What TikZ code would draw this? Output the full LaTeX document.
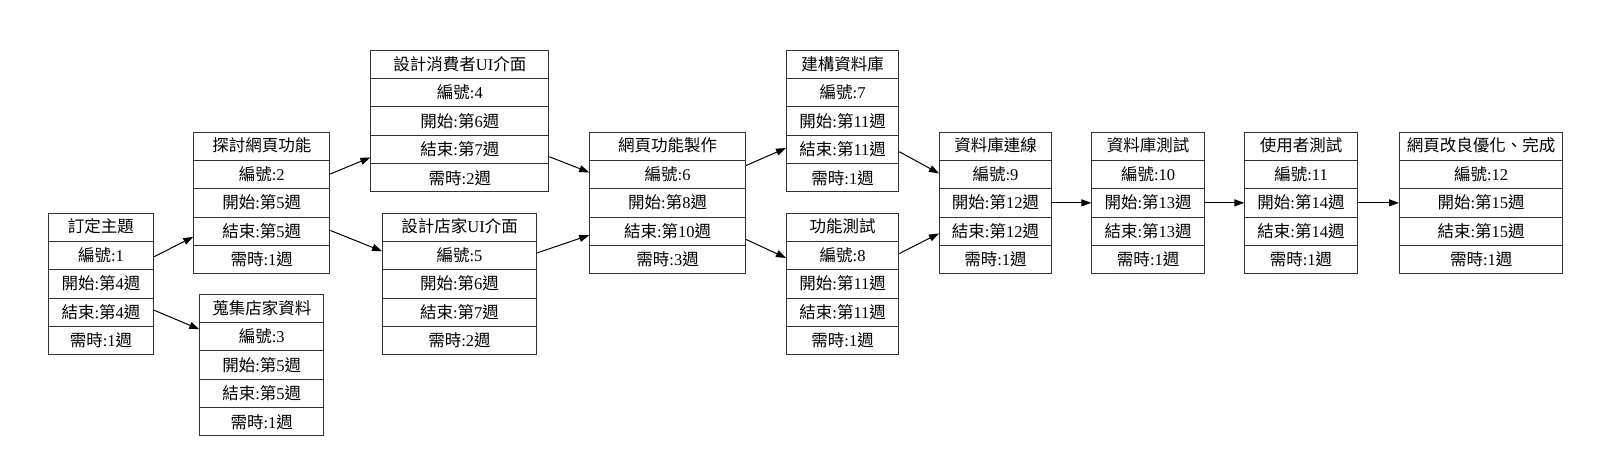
\documentclass[tikz,border=0pt]{standalone}
\usepackage{fontspec}
\setmainfont{Liberation Serif}
\newfontfamily\cjk{Noto Sans CJK TC}
\usetikzlibrary{calc,arrows.meta}
\newcommand\C[1]{{\cjk #1}}
\newcommand\rid[1]{\C{編號}:#1}
\newcommand\rst[1]{\C{開始}:\C{第}#1\C{週}}
\newcommand\ren[1]{\C{結束}:\C{第}#1\C{週}}
\newcommand\rdu[1]{\C{需時}:#1\C{週}}
\tikzset{
  recbox/.style={draw=black!80, line width=1pt, minimum height=141.3pt, inner sep=0pt, fill=white, anchor=north west},
  recline/.style={draw=black!80, line width=1pt},
  rowtxt/.style={inner sep=0pt, text height=14.5pt, text depth=2.5pt, font=\fontsize{16.5}{18}\selectfont},
  arr/.style={line width=1pt, -{Triangle[length=10pt,width=7pt]}},
}
\newcommand\record[9]{%
  \node[recbox, minimum width={(#3-#2)*1pt}] (#1) at (#2,#4) {};
  \foreach \f in {0.2,0.4,0.6,0.8} {\draw[recline] ($(#1.north west)!\f!(#1.south west)$) -- ($(#1.north east)!\f!(#1.south east)$);}
  \node[rowtxt] (#1-1) at ($(#1.north)!0.1!(#1.south)$) {#5};
  \node[rowtxt] (#1-2) at ($(#1.north)!0.3!(#1.south)$) {\rid{#6}};
  \node[rowtxt] (#1-3) at ($(#1.north)!0.5!(#1.south)$) {\rst{#7}};
  \node[rowtxt] (#1-4) at ($(#1.north)!0.7!(#1.south)$) {\ren{#8}};
  \node[rowtxt] (#1-5) at ($(#1.north)!0.9!(#1.south)$) {\rdu{#9}};
}
\newcommand\edge[4]{%
  \draw[arr] ($(#1.north east)!#2!(#1.south east)$) -- ($(#3.north west)!#4!(#3.south west)$);
}
\begin{document}
\begin{tikzpicture}[x=1pt,y=-1pt]
\useasboundingbox[fill=white] (0,0) rectangle (1613,476);
\record{r1}{48.2}{152.7}{212.7}{\C{訂定主題}}{1}{4}{4}{1}
\record{r2}{193.3}{329.3}{131.7}{\C{探討網頁功能}}{2}{5}{5}{1}
\record{r3}{199.3}{323.2}{294}{\C{蒐集店家資料}}{3}{5}{5}{1}
\record{r4}{370.4}{548.3}{50}{\C{設計消費者}UI\C{介面}}{4}{6}{7}{2}
\record{r5}{382.1}{536}{212.7}{\C{設計店家}UI\C{介面}}{5}{6}{7}{2}
\record{r6}{589.2}{745}{131.7}{\C{網頁功能製作}}{6}{8}{10}{3}
\record{r7}{786}{898.3}{50}{\C{建構資料庫}}{7}{11}{11}{1}
\record{r8}{786}{898.3}{212.7}{\C{功能測試}}{8}{11}{11}{1}
\record{r9}{939}{1051}{131.7}{\C{資料庫連線}}{9}{12}{12}{1}
\record{r10}{1091.3}{1204}{131.7}{\C{資料庫測試}}{10}{13}{13}{1}
\record{r11}{1244.3}{1356.7}{131.7}{\C{使用者測試}}{11}{14}{14}{1}
\record{r12}{1399}{1562.3}{131.7}{\C{網頁改良優化、完成}}{12}{15}{15}{1}
\edge{r1}{0.311}{r2}{0.739}
\edge{r1}{0.684}{r3}{0.248}
\edge{r2}{0.297}{r4}{0.755}
\edge{r2}{0.694}{r5}{0.271}
\edge{r4}{0.75}{r6}{0.286}
\edge{r5}{0.283}{r6}{0.727}
\edge{r6}{0.238}{r7}{0.689}
\edge{r6}{0.757}{r8}{0.318}
\edge{r7}{0.715}{r9}{0.293}
\edge{r8}{0.287}{r9}{0.715}
\edge{r9}{0.5}{r10}{0.5}
\edge{r10}{0.5}{r11}{0.5}
\edge{r11}{0.5}{r12}{0.5}
\end{tikzpicture}
\end{document}
